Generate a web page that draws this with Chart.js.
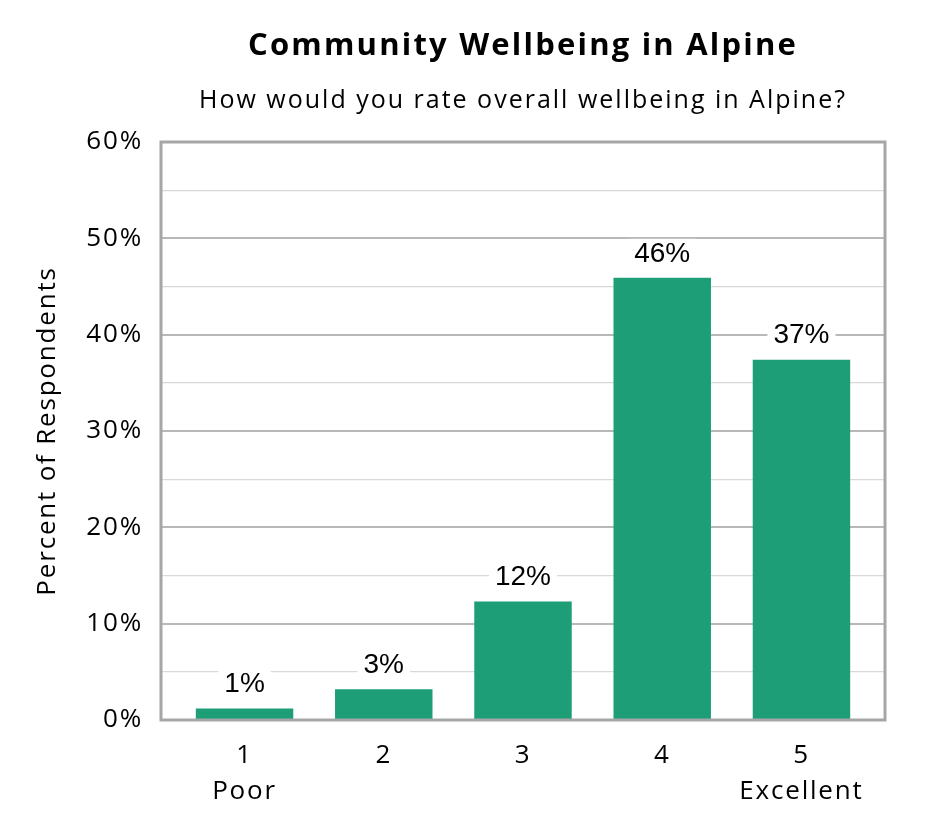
<!DOCTYPE html>
<html>
<head>
<meta charset="utf-8">
<script src="https://cdn.jsdelivr.net/npm/chart.js@4"></script>
<style>
html,body{margin:0;padding:0;background:#fff;}
#wrap{width:945px;height:840px;position:relative;}
</style>
</head>
<body>
<div id="wrap"><canvas id="c"></canvas></div>
<script>
const titleText = "Community Wellbeing in Alpine";
const subtitleText = "How would you rate overall wellbeing in Alpine?";
const categories = [["1","Poor"],["2",""],["3",""],["4",""],["5","Excellent"]];
const positions = [1, 2, 3, 4, 5];
const values = [1.2, 3.2, 12.3, 45.9, 37.4];
const dataLabels = ["1%","3%","12%","46%","37%"];
const yAxisTitle = "Percent of Respondents";
const barColor = "#1d9e77";
const AXIS_SPACING = '1.8px';

const frame = {
  id: 'frame',
  beforeLayout(chart) { chart.ctx.letterSpacing = AXIS_SPACING; },
  beforeDraw(chart) { chart.ctx.letterSpacing = AXIS_SPACING; },
  afterDraw(chart) {
    const {ctx, chartArea: a} = chart;
    ctx.save();
    ctx.strokeStyle = '#a6a6a6';
    ctx.lineWidth = 3;
    ctx.strokeRect(a.left, a.top, a.right - a.left, a.bottom - a.top);
    const cx = (a.left + a.right) / 2;
    ctx.fillStyle = '#000';
    ctx.textAlign = 'center';
    ctx.textBaseline = 'middle';
    ctx.letterSpacing = '2.2px';
    ctx.font = 'bold 31px "Open Sans"';
    ctx.fillText(titleText, cx, 46);
    ctx.letterSpacing = '2px';
    ctx.font = '25px "Open Sans"';
    ctx.fillText(subtitleText, cx, 101);
    ctx.letterSpacing = '0px';
    const meta = chart.getDatasetMeta(0);
    ctx.font = '28px "Liberation Sans"';
    meta.data.forEach((bar, i) => {
      const t = dataLabels[i];
      const w = ctx.measureText(t).width;
      const y = bar.y - 24;
      ctx.fillStyle = '#fff';
      ctx.fillRect(bar.x - w/2 - 6, y - 15, w + 12, 30);
      ctx.fillStyle = '#000';
      ctx.fillText(t, bar.x, y);
    });
    ctx.restore();
  }
};

new Chart(document.getElementById('c'), {
  type: 'bar',
  data: {
    datasets: [{
      data: values.map((v, i) => ({x: positions[i], y: v})),
      backgroundColor: barColor, barPercentage: 0.7, categoryPercentage: 1
    }]
  },
  options: {
    responsive: true,
    maintainAspectRatio: false,
    animation: false,
    layout: {padding: {top: 142, right: 60, bottom: 0, left: 32}},
    plugins: {legend: {display: false}, tooltip: {enabled: false}},
    scales: {
      x: {
        type: 'linear',
        min: 0.4, max: 5.6,
        offset: false,
        grid: {display: false},
        border: {display: false},
        afterBuildTicks: s => { s.ticks = positions.map(v => ({value: v})); },
        afterFit: s => { s.height = 120; },
        ticks: {
          color: '#000', font: {family: 'Open Sans', size: 26, lineHeight: 1.38}, padding: 10, maxRotation: 0,
          callback: v => categories[positions.indexOf(v)] || ''
        }
      },
      y: {
        min: 0, max: 60,
        border: {display: false},
        afterFit: s => { s.width = 129; },
        grid: {
          drawTicks: false,
          color: c => (c.tick && c.tick.value % 10 === 0) ? '#b8b8b8' : '#d9d9d9',
          lineWidth: c => (c.tick && c.tick.value % 10 === 0) ? 2 : 1.2
        },
        ticks: {
          stepSize: 5,
          color: '#000',
          padding: 18,
          font: {family: 'Open Sans', size: 26},
          callback: v => (v % 10 === 0) ? v + '%' : ''
        },
        title: {display: true, text: yAxisTitle, color: '#000', font: {family: 'Open Sans', size: 26}, padding: {top: 0, bottom: 0}}
      }
    }
  },
  plugins: [frame]
});
</script>
</body>
</html>
